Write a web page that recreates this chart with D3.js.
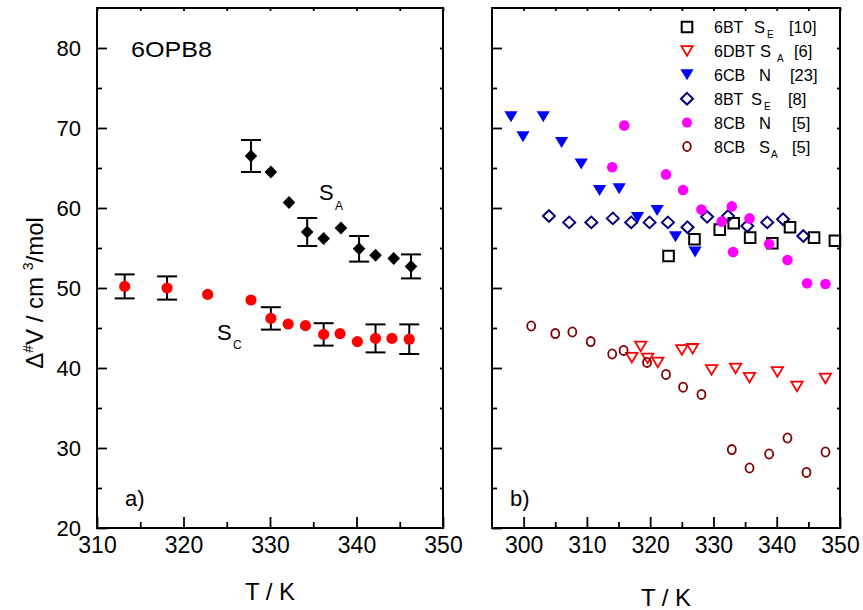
<!DOCTYPE html>
<html>
<head>
<meta charset="utf-8">
<script src="https://cdn.jsdelivr.net/npm/d3@7"></script>
<style>
  html, body { margin: 0; padding: 0; background: #fff; }
  svg { display: block; font-family: "Liberation Sans", Arial, sans-serif; }
</style>
</head>
<body>
<svg id="chart" width="863" height="610"></svg>
<script>
// ---------------- DATA ----------------
// Panel a) 6OPB8
const saT   = [327.8, 330.1, 332.2, 334.3, 336.2, 338.2, 340.3, 342.2, 344.3, 346.3];
const saV   = [66.5, 64.5, 60.7, 57.0, 56.2, 57.5, 54.9, 54.1, 53.7, 52.7];
const saErr = [2.0, 0, 0, 1.75, 0, 0, 1.6, 0, 0, 1.5];

const scT   = [313.2, 318.1, 322.8, 327.8, 330.1, 332.1, 334.1, 336.2, 338.1, 340.1, 342.2, 344.1, 346.1];
const scV   = [50.2, 50.0, 49.2, 48.5, 46.2, 45.5, 45.3, 44.2, 44.3, 43.3, 43.7, 43.7, 43.6];
const scErr = [1.5, 1.45, 0, 0, 1.4, 0, 0, 1.4, 0, 0, 1.75, 0, 1.85];

// Panel b) literature data
const bt6T  = [322.9, 327.0, 331.0, 333.2, 335.8, 339.3, 342.1, 345.9, 349.2];
const bt6V  = [54.0, 56.1, 57.3, 58.1, 56.3, 55.6, 57.6, 56.3, 55.9];

const dbt6T = [317.1, 318.5, 319.6, 321.2, 325.0, 326.7, 329.7, 333.5, 335.7, 340.1, 343.2, 347.7];
const dbt6V = [41.3, 42.7, 41.2, 40.7, 42.25, 42.4, 39.75, 39.95, 38.8, 39.5, 37.7, 38.7];

const cb6T  = [298.0, 299.9, 303.1, 306.0, 309.1, 312.0, 315.1, 318.0, 321.1, 324.0, 327.1];
const cb6V  = [71.4, 68.9, 71.4, 68.2, 65.5, 62.2, 62.4, 58.8, 59.7, 56.4, 54.5];

const bt8T  = [304.0, 307.2, 310.7, 314.1, 317.0, 319.9, 322.8, 325.9, 329.0, 332.3, 335.35, 338.5, 341.0, 344.2];
const bt8V  = [59.0, 58.2, 58.2, 58.7, 58.2, 58.2, 58.2, 57.6, 58.9, 59.0, 57.75, 58.2, 58.6, 56.5];

const cb8nT = [314.0, 315.9, 322.5, 325.2, 328.1, 331.3, 332.9, 333.1, 335.7, 338.8, 341.7, 344.8, 347.7];
const cb8nV = [65.1, 70.3, 64.2, 62.25, 59.8, 58.3, 60.2, 54.5, 58.7, 55.5, 53.5, 50.6, 50.5];

const cb8aT = [301.2, 305.0, 307.7, 310.6, 314.0, 315.8, 319.5, 322.5, 325.2, 328.1, 332.9, 335.7, 338.8, 341.7, 344.7, 347.7];
const cb8aV = [45.25, 44.3, 44.5, 43.3, 41.75, 42.2, 40.7, 39.2, 37.6, 36.7, 29.8, 27.5, 29.25, 31.25, 26.95, 29.5];

// legend texts
const legendName  = ["6BT", "6DBT", "6CB", "8BT", "8CB", "8CB"];
const legendPhase = ["S", "S", "N", "S", "N", "S"];
const legendSub   = ["E", "A", "", "E", "", "A"];
const legendRef   = ["[10]", "[6]", "[23]", "[8]", "[5]", "[5]"];

// axis ticks
const yMajor = [20, 30, 40, 50, 60, 70, 80];
const yMinor = [25, 35, 45, 55, 65, 75];
const yAll5  = [25, 30, 35, 40, 45, 50, 55, 60, 65, 70, 75, 80];
const xLMajor = [310, 320, 330, 340, 350];
const xLMinor = [315, 325, 335, 345];
const xRMajor = [300, 310, 320, 330, 340, 350];
const xRMinor = [305, 315, 325, 335, 345];

// ---------------- DRAWING ----------------
const svg = d3.select("#chart");
const Y0 = 528, Y1 = 8;
const y  = d3.scaleLinear().domain([20, 85]).range([Y0, Y1]);
const xL = d3.scaleLinear().domain([310, 350]).range([97, 443]);
const xR = d3.scaleLinear().domain([295, 350]).range([492, 840]);

function styleAxis(g) {
  g.select(".domain").remove();
  g.selectAll(".tick line").attr("stroke", "#000").attr("stroke-width", 1.8);
}

function panel(x, xMajor, xMinor, yLabels) {
  const [xa, xb] = x.range();
  // bottom
  svg.append("g").attr("transform", `translate(0,${Y0})`)
    .call(d3.axisBottom(x).tickValues(xMajor).tickSize(-11).tickPadding(9).tickFormat(d3.format("d")))
    .call(styleAxis)
    .call(g => g.selectAll("text").attr("font-size", 23).attr("fill", "#000")
      .attr("font-family", "Liberation Sans, Arial, sans-serif"));
  svg.append("g").attr("transform", `translate(0,${Y0})`)
    .call(d3.axisBottom(x).tickValues(xMinor).tickSize(-6).tickFormat(""))
    .call(styleAxis);
  // top
  svg.append("g").attr("transform", `translate(0,${Y1})`)
    .call(d3.axisTop(x).tickValues(xMajor.concat(xMinor)).tickSize(-3).tickFormat(""))
    .call(styleAxis);
  // left
  const la = d3.axisLeft(y).tickValues(yMajor).tickSize(-10).tickPadding(16);
  if (!yLabels) la.tickFormat("");
  svg.append("g").attr("transform", `translate(${xa},0)`)
    .call(la).call(styleAxis)
    .call(g => g.selectAll("text").attr("font-size", 22).attr("fill", "#000")
      .attr("font-family", "Liberation Sans, Arial, sans-serif"));
  svg.append("g").attr("transform", `translate(${xa},0)`)
    .call(d3.axisLeft(y).tickValues(yMinor).tickSize(-5).tickFormat(""))
    .call(styleAxis);
  // right
  svg.append("g").attr("transform", `translate(${xb},0)`)
    .call(d3.axisRight(y).tickValues(yAll5).tickSize(-3).tickFormat(""))
    .call(styleAxis);
  // frame
  svg.append("rect").attr("x", xa).attr("y", Y1).attr("width", xb - xa).attr("height", Y0 - Y1)
    .attr("fill", "none").attr("stroke", "#000").attr("stroke-width", 2);
}

panel(xL, xLMajor, xLMinor, true);
panel(xR, xRMajor, xRMinor, false);

// marker shapes
const shapes = {
  diamondFilled: "M0,-6.5L6.3,0L0,6.5L-6.3,0Z",
  diamondOpen:   "M0,-5.8L6,0L0,5.8L-6,0Z",
  square:        "M-5.3,-5.3H5.3V5.3H-5.3Z",
  triDown:       "M-6.6,-5.5L6.6,-5.5L0,5.5Z",
  triDownOpen:   "M-5.7,-4.8L5.7,-4.8L0,4.8Z"
};

function zip(T, V) { return T.map((t, i) => ({ t, v: V[i] })); }

function errorBars(x, T, V, E) {
  const d = zip(T, V).map((p, i) => ({ ...p, e: E[i] })).filter(p => p.e > 0);
  const g = svg.append("g").attr("stroke", "#000").attr("stroke-width", 2);
  g.selectAll("line.v").data(d).join("line")
    .attr("x1", p => x(p.t)).attr("x2", p => x(p.t))
    .attr("y1", p => y(p.v - p.e)).attr("y2", p => y(p.v + p.e));
  g.selectAll("line.t").data(d).join("line")
    .attr("x1", p => x(p.t) - 10).attr("x2", p => x(p.t) + 10)
    .attr("y1", p => y(p.v + p.e)).attr("y2", p => y(p.v + p.e));
  g.selectAll("line.b").data(d).join("line")
    .attr("x1", p => x(p.t) - 10).attr("x2", p => x(p.t) + 10)
    .attr("y1", p => y(p.v - p.e)).attr("y2", p => y(p.v - p.e));
}

function pathMarks(x, T, V, shape, fill, stroke, sw) {
  svg.append("g").selectAll("path").data(zip(T, V)).join("path")
    .attr("d", shapes[shape])
    .attr("transform", p => `translate(${x(p.t)},${y(p.v)})`)
    .attr("fill", fill).attr("stroke", stroke).attr("stroke-width", sw);
}

function ellipseMarks(x, T, V, rx, ry, fill, stroke, sw) {
  svg.append("g").selectAll("ellipse").data(zip(T, V)).join("ellipse")
    .attr("cx", p => x(p.t)).attr("cy", p => y(p.v))
    .attr("rx", rx).attr("ry", ry)
    .attr("fill", fill).attr("stroke", stroke).attr("stroke-width", sw);
}

// panel a
errorBars(xL, saT, saV, saErr);
errorBars(xL, scT, scV, scErr);
pathMarks(xL, saT, saV, "diamondFilled", "#000", "none", 0);
ellipseMarks(xL, scT, scV, 5.6, 5.6, "#ff0000", "none", 0);

// panel b
pathMarks(xR, bt8T, bt8V, "diamondOpen", "none", "#000080", 2);
pathMarks(xR, bt6T, bt6V, "square", "none", "#000", 2);
pathMarks(xR, cb6T, cb6V, "triDown", "#0000ff", "none", 0);
ellipseMarks(xR, cb8nT, cb8nV, 5.3, 5.3, "#ff00ff", "none", 0);
pathMarks(xR, dbt6T, dbt6V, "triDownOpen", "none", "#ff0000", 1.8);
ellipseMarks(xR, cb8aT, cb8aV, 4, 4.6, "none", "#800000", 1.8);

// texts panel a
svg.append("text").attr("x", 131).attr("y", 57).attr("font-size", 22)
  .attr("textLength", 81).attr("lengthAdjust", "spacingAndGlyphs").text("6OPB8");
const sa = svg.append("text").attr("x", 319).attr("y", 200).attr("font-size", 22);
sa.append("tspan").text("S");
sa.append("tspan").attr("x", 335).attr("y", 210).attr("font-size", 12).text("A");
const sc = svg.append("text").attr("x", 217).attr("y", 340).attr("font-size", 22);
sc.append("tspan").text("S");
sc.append("tspan").attr("x", 233).attr("y", 349).attr("font-size", 12).text("C");
svg.append("text").attr("x", 125).attr("y", 506).attr("font-size", 22).text("a)");
svg.append("text").attr("x", 510).attr("y", 506).attr("font-size", 22).text("b)");

// axis titles
svg.append("text").attr("x", 270).attr("y", 600).attr("text-anchor", "middle")
  .attr("font-size", 24).text("T / K");
svg.append("text").attr("x", 666).attr("y", 606).attr("text-anchor", "middle")
  .attr("font-size", 24).text("T / K");
const yl = svg.append("text").attr("transform", "translate(43,293) rotate(-90)")
  .attr("text-anchor", "middle").attr("font-size", 24);
yl.append("tspan").text("Δ");
yl.append("tspan").attr("dy", -10).attr("font-size", 14).text("#");
yl.append("tspan").attr("dy", 10).text("V / cm ");
yl.append("tspan").attr("dy", -10).attr("font-size", 14).text("3");
yl.append("tspan").attr("dy", 10).text("/mol");

// legend
const legShapes = [
  { s: "square", fill: "none", stroke: "#000", sw: 2 },
  { s: "triDownOpen", fill: "none", stroke: "#ff0000", sw: 1.8 },
  { s: "triDown", fill: "#0000ff", stroke: "none", sw: 0 },
  { s: "diamondOpen", fill: "none", stroke: "#000080", sw: 2 },
  { s: "circle", fill: "#ff00ff", stroke: "none", sw: 0 },
  { s: "ring", fill: "none", stroke: "#800000", sw: 1.8 }
];
const phaseX = [754, 760, 759, 751, 759, 759];
const subX   = [767, 777, 0, 764, 0, 771];
const refX   = [789, 794, 790, 788, 792, 792];
const rowY0 = 27, rowDY = 23.9;
legendName.forEach((name, i) => {
  const cy = rowY0 + i * rowDY;
  const m = legShapes[i];
  if (m.s === "circle") {
    svg.append("circle").attr("cx", 687).attr("cy", cy).attr("r", 5).attr("fill", m.fill);
  } else if (m.s === "ring") {
    svg.append("ellipse").attr("cx", 687).attr("cy", cy).attr("rx", 3.8).attr("ry", 4.6)
      .attr("fill", "none").attr("stroke", m.stroke).attr("stroke-width", m.sw);
  } else {
    svg.append("path").attr("d", shapes[m.s]).attr("transform", `translate(687,${cy})`)
      .attr("fill", m.fill).attr("stroke", m.stroke).attr("stroke-width", m.sw);
  }
  const base = cy + 6;
  svg.append("text").attr("x", 714).attr("y", base).attr("font-size", 16).text(name);
  svg.append("text").attr("x", phaseX[i]).attr("y", base).attr("font-size", 16.5).text(legendPhase[i]);
  if (legendSub[i]) {
    svg.append("text").attr("x", subX[i]).attr("y", base + 5).attr("font-size", 10).text(legendSub[i]);
  }
  svg.append("text").attr("x", refX[i]).attr("y", base).attr("font-size", 16.5).text(legendRef[i]);
});
</script>
</body>
</html>
